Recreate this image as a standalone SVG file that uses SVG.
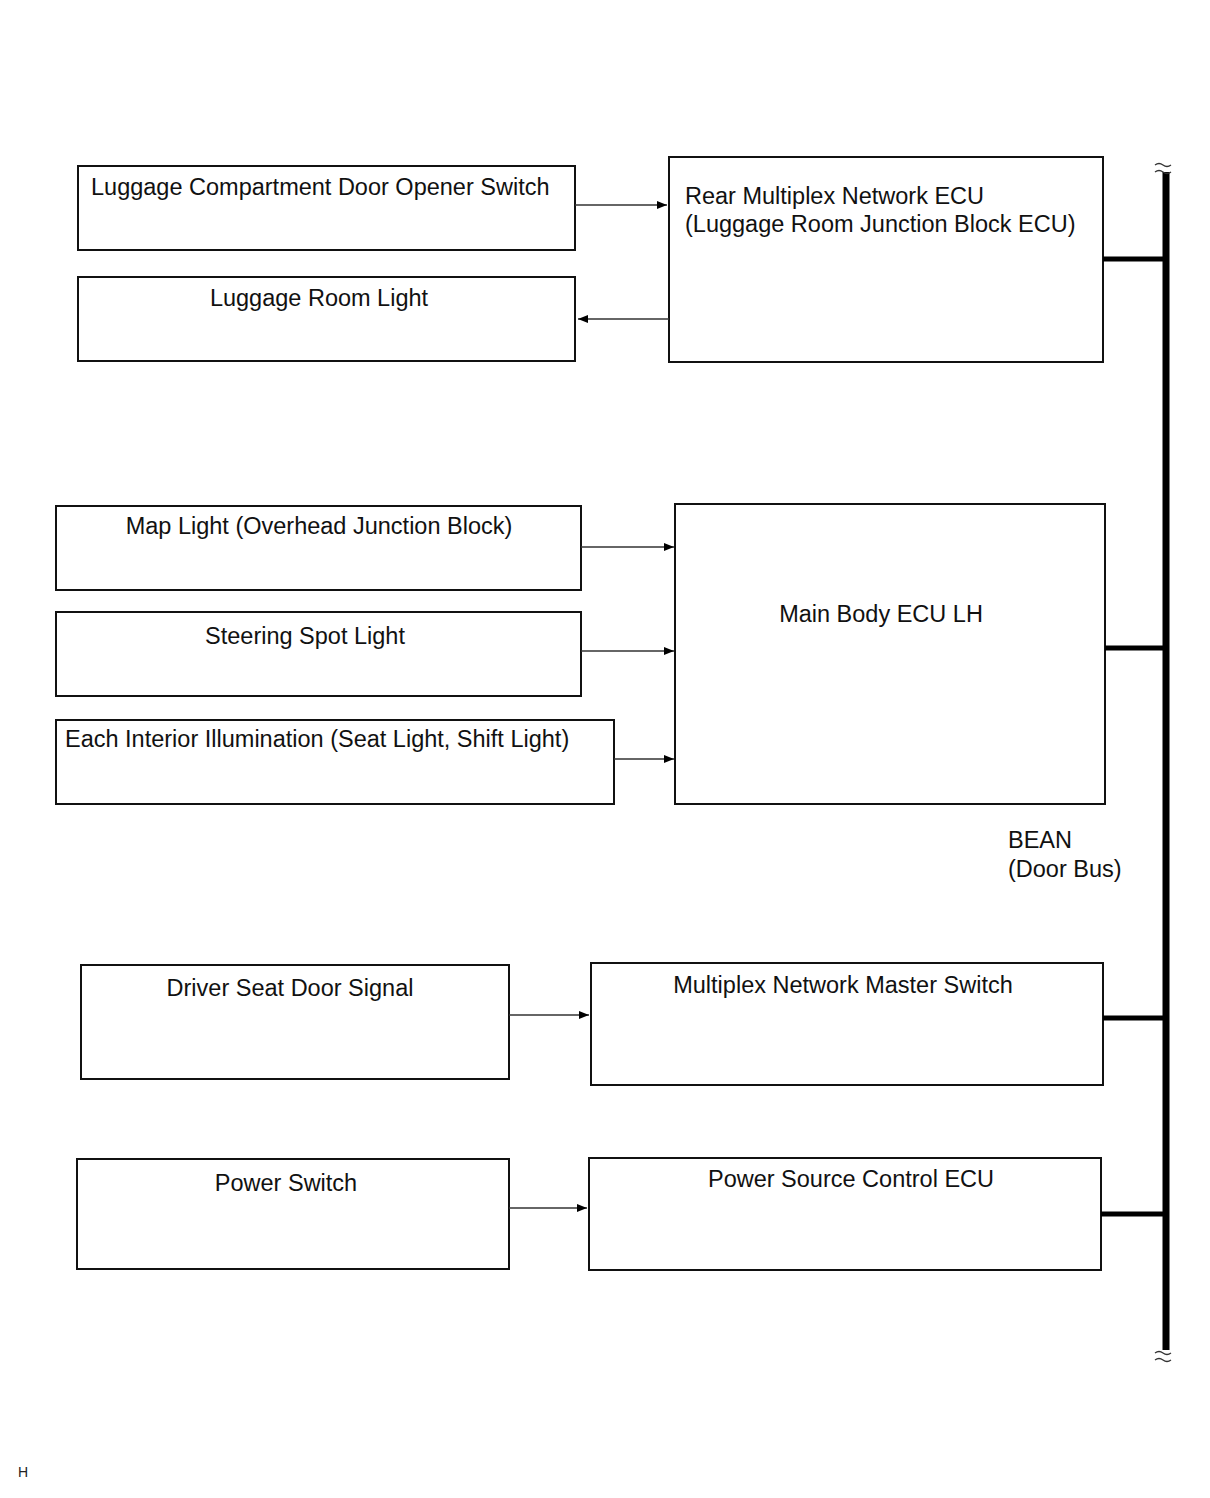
<svg xmlns="http://www.w3.org/2000/svg" width="1210" height="1498" viewBox="0 0 1210 1498">
<defs>
<marker id="ah" markerWidth="10" markerHeight="8" refX="10" refY="4" orient="auto" markerUnits="userSpaceOnUse">
<path d="M0,0 L10,4 L0,8 Z" fill="#000"/>
</marker>
<style>
.box{fill:#fff;stroke:#111;stroke-width:2}
.t{font-family:"Liberation Sans",Arial,sans-serif;font-size:23.5px;fill:#111}
.c{text-anchor:middle}
.ar{stroke:#333;stroke-width:1.5;fill:none;marker-end:url(#ah)}
.bus{stroke:#000;stroke-width:5;fill:none}
.tl{stroke:#333;stroke-width:1.3;fill:none}
</style>
</defs>
<rect width="1210" height="1498" fill="#fff"/>
<g id="n1"><rect class="box" x="78" y="166" width="497" height="84"/><text class="t" x="91" y="195">Luggage Compartment Door Opener Switch</text></g>
<g id="n2"><rect class="box" x="78" y="277" width="497" height="84"/><text class="t c" x="319" y="306">Luggage Room Light</text></g>
<g id="n3"><rect class="box" x="669" y="157" width="434" height="205"/><text class="t" x="685" y="204">Rear Multiplex Network ECU</text><text class="t" x="685" y="232">(Luggage Room Junction Block ECU)</text></g>
<g id="n4"><rect class="box" x="56" y="506" width="525" height="84"/><text class="t c" x="319" y="534">Map Light (Overhead Junction Block)</text></g>
<g id="n5"><rect class="box" x="56" y="612" width="525" height="84"/><text class="t c" x="305" y="644">Steering Spot Light</text></g>
<g id="n6"><rect class="box" x="56" y="720" width="558" height="84"/><text class="t" x="65" y="747">Each Interior Illumination (Seat Light, Shift Light)</text></g>
<g id="n7"><rect class="box" x="675" y="504" width="430" height="300"/><text class="t c" x="881" y="622">Main Body ECU LH</text></g>
<g id="n8"><rect class="box" x="81" y="965" width="428" height="114"/><text class="t c" x="290" y="996">Driver Seat Door Signal</text></g>
<g id="n9"><rect class="box" x="591" y="963" width="512" height="122"/><text class="t c" x="843" y="993">Multiplex Network Master Switch</text></g>
<g id="n10"><rect class="box" x="77" y="1159" width="432" height="110"/><text class="t c" x="286" y="1191">Power Switch</text></g>
<g id="n11"><rect class="box" x="589" y="1158" width="512" height="112"/><text class="t c" x="851" y="1187">Power Source Control ECU</text></g>
<g id="bean"><text class="t" x="1008" y="848">BEAN</text><text class="t" x="1008" y="877">(Door Bus)</text></g>
<g id="connectors">
<line class="ar" x1="575" y1="205" x2="667" y2="205"/>
<line class="ar" x1="669" y1="319" x2="578" y2="319"/>
<line class="ar" x1="581" y1="547" x2="674" y2="547"/>
<line class="ar" x1="581" y1="651" x2="674" y2="651"/>
<line class="ar" x1="614" y1="759" x2="674" y2="759"/>
<line class="ar" x1="509" y1="1015" x2="589" y2="1015"/>
<line class="ar" x1="509" y1="1208" x2="587" y2="1208"/>
<line stroke="#000" stroke-width="7" x1="1166" y1="172" x2="1166" y2="1350"/>
<line class="bus" x1="1103" y1="259" x2="1166" y2="259"/>
<line class="bus" x1="1105" y1="648" x2="1166" y2="648"/>
<line class="bus" x1="1103" y1="1018" x2="1166" y2="1018"/>
<line class="bus" x1="1101" y1="1214" x2="1166" y2="1214"/>
<path class="tl" d="M1155,165 q4,-3 8,0 t8,0 M1155,172 q4,-3 8,0 t8,0"/>
<path class="tl" d="M1155,1353 q4,-3 8,0 t8,0 M1155,1360 q4,-3 8,0 t8,0"/>
</g>
<text x="18" y="1477" font-family="Liberation Sans,Arial,sans-serif" font-size="14" fill="#222">H</text>
</svg>
